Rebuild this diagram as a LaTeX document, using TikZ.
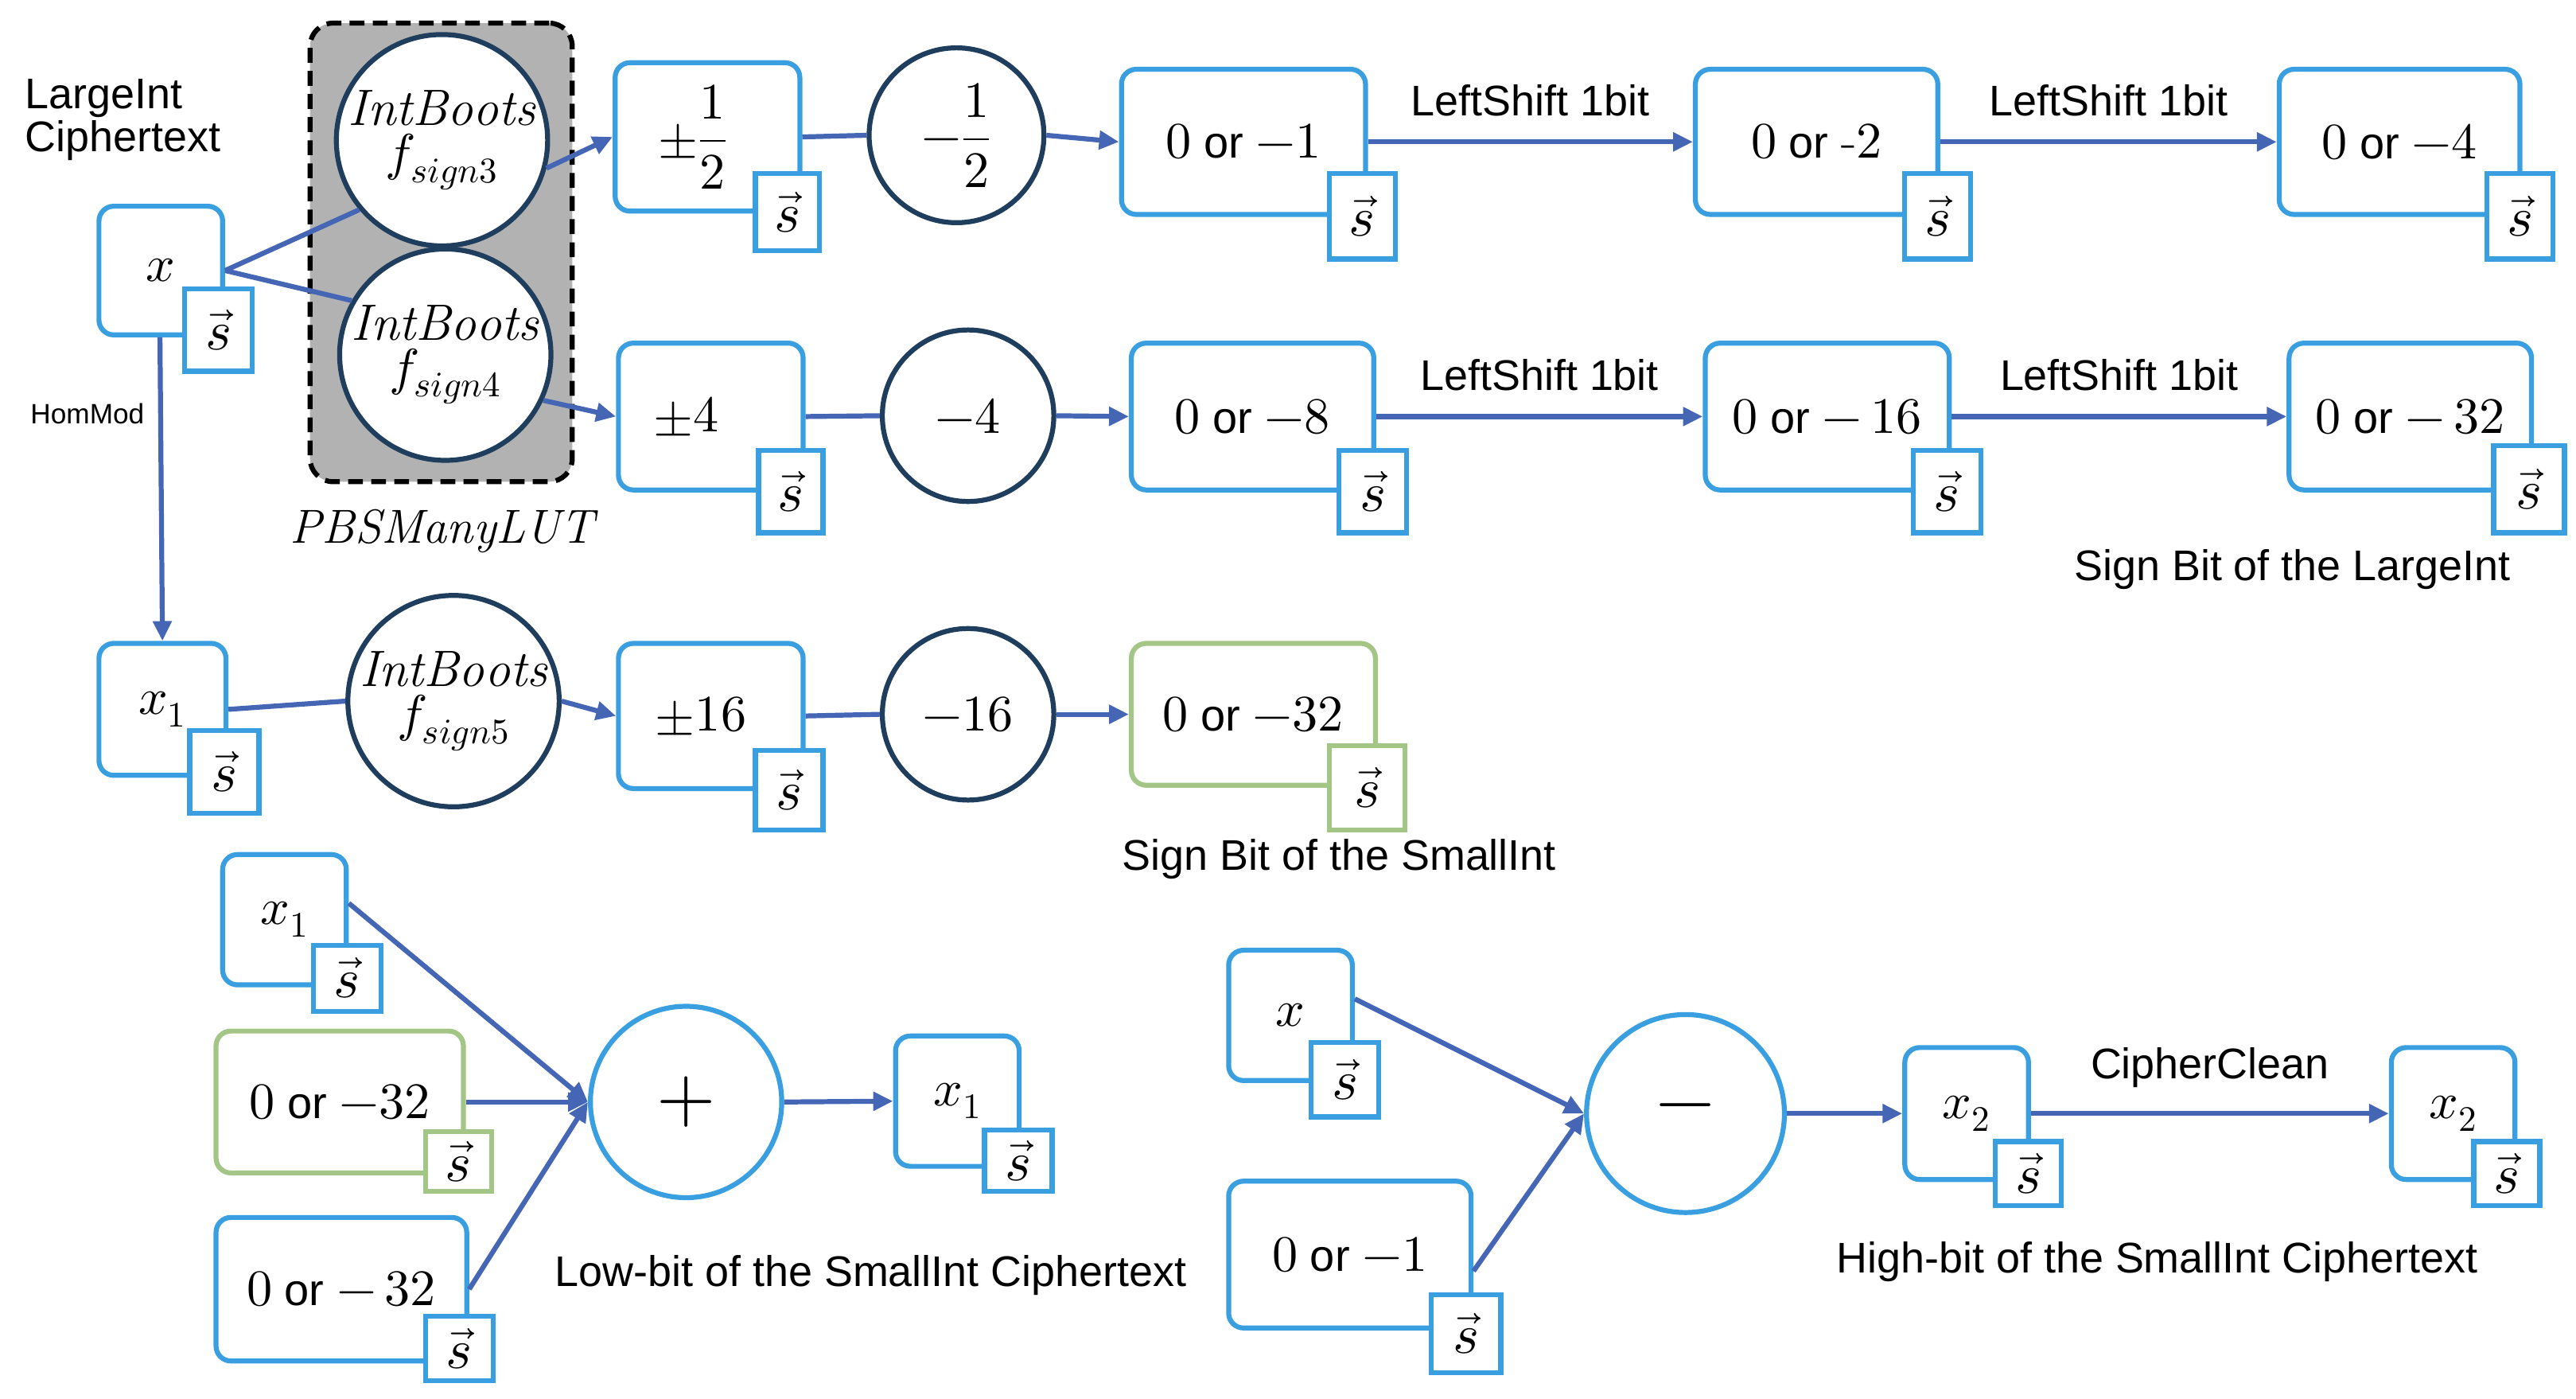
\documentclass[tikz,border=0pt]{standalone}
\usepackage{fontspec}
\usepackage{unicode-math}
\setmathfont{Latin Modern Math}
\newfontfamily\lsans{Liberation Sans}
\usetikzlibrary{arrows.meta}
\definecolor{bb}{HTML}{3A9FE0}
\definecolor{nv}{HTML}{1F3D5C}
\definecolor{ar}{HTML}{4565B5}
\definecolor{gr}{HTML}{A3C585}
\newcommand\Bx[7]{\node[rbox,draw=#7,minimum width={(#4-#2)*1pt},minimum height={(#5-#3)*1pt}] (#1) at ({(#2+#4)/2},{(#3+#5)/2}) {#6};}
\newcommand\Sx[6]{\node[sbox,draw=#6,minimum width={(#4-#2)*1pt},minimum height={(#5-#3)*1pt}] (#1) at ({(#2+#4)/2},{(#3+#5)/2}) {$\vec{s}$};}
\newcommand\por{{\lsans\fontsize{27}{30}\selectfont\ or\ }}
\begin{document}
\begin{tikzpicture}[x=1pt,y=-1pt,
 rbox/.style={rounded corners=9pt,line width=3pt,fill=white,inner sep=0pt,font=\fontsize{31}{34}\selectfont},
 sbox/.style={line width=3pt,fill=white,inner sep=0pt,font=\fontsize{34}{34}\selectfont},
 nc/.style={circle,draw=nv,line width=3pt,fill=white,inner sep=0pt,align=center,font=\fontsize{31}{31}\selectfont},
 bc/.style={circle,draw=bb,line width=3pt,fill=white,inner sep=0pt,font=\fontsize{46}{46}\selectfont},
 ln/.style={draw=ar,line width=3pt},
 arr/.style={ln,-{Triangle[length=12pt,width=11pt]}},
 lab/.style={font=\lsans\fontsize{26}{26}\selectfont,inner sep=0pt}]
\useasboundingbox (0,0) rectangle (1562,848);
\node[lab,align=left,anchor=north west] (lic) at (15,48) {LargeInt\\Ciphertext};
\node[rounded corners=14pt,draw=black,dash pattern=on 9pt off 5pt,line width=3pt,fill=black!30,minimum width=159pt,minimum height=278pt] (pbs) at (267.5,153) {};
\node[font=\fontsize{29}{30}\selectfont] (pbsl) at (268,322) {$\mathit{PBSManyLUT}$};
% x
\Bx{x}{60}{125}{135}{203}{$x$}{bb}\Sx{xs}{112}{175}{153}{225}{bb}
\node[lab,font=\lsans\fontsize{17}{18}\selectfont] (hm) at (53,251) {HomMod};
\node[nc,minimum size=124pt] (c3) at (268,85) {$\mathit{IntBoots}$\\[-4pt]$f_{sign3}$};
\node[nc,minimum size=124pt] (c4) at (270,215) {$\mathit{IntBoots}$\\[-4pt]$f_{sign4}$};
% row1
\Bx{a1}{373}{38}{485}{128}{\hspace*{-18pt}$\pm\dfrac{1}{2}$}{bb}\Sx{a1s}{458}{105}{497}{152}{bb}
\node[nc,minimum size=106pt] (m1) at (580,82) {$-\dfrac{1}{2}$};
\Bx{b1}{680}{42}{828}{130}{$0$\por$-1$}{bb}\Sx{b1s}{806}{105}{846}{157}{bb}
\Bx{c1}{1028}{42}{1175}{130}{$0$\por-$2$}{bb}\Sx{c1s}{1155}{105}{1195}{157}{bb}
\Bx{d1}{1382}{42}{1528}{130}{$0$\por$-4$}{bb}\Sx{d1s}{1508}{105}{1548}{157}{bb}
% row2
\Bx{a2}{375}{208}{487}{297}{\hspace*{-30pt}$\pm4$}{bb}\Sx{a2s}{460}{273}{499}{323}{bb}
\node[nc,minimum size=104pt] (m2) at (587,252) {$-4$};
\Bx{b2}{686}{208}{833}{297}{$0$\por$-8$}{bb}\Sx{b2s}{812}{273}{853}{323}{bb}
\Bx{c2}{1034}{208}{1182}{297}{$0$\por$-\,16$}{bb}\Sx{c2s}{1160}{273}{1201}{323}{bb}
\Bx{d2}{1388}{208}{1535}{297}{$0$\por$-\,32$}{bb}\Sx{d2s}{1512}{270}{1555}{323}{bb}
\node[lab] (sbl) at (1390,345) {Sign Bit of the LargeInt};
% row3
\Bx{x1}{60}{390}{137}{470}{$x_1$}{bb}\Sx{x1s}{115}{443}{157}{493}{bb}
\node[nc,minimum size=126pt] (c5) at (275,425) {$\mathit{IntBoots}$\\[-4pt]$f_{sign5}$};
\Bx{a3}{375}{390}{487}{478}{\hspace*{-12pt}$\pm16$}{bb}\Sx{a3s}{458}{455}{499}{503}{bb}
\node[nc,minimum size=104pt] (m3) at (587,433) {$-16$};
\Bx{b3}{686}{390}{834}{476}{$0$\por$-32$}{gr}\Sx{b3s}{806}{452}{852}{503}{gr}
\node[lab] (sbs) at (812,521) {Sign Bit of the SmallInt};
% bottom left
\Bx{p1}{135}{518}{210}{597}{$x_1$}{bb}\Sx{p1s}{190}{573}{231}{613}{bb}
\Bx{p2}{131}{625}{281}{711}{$0$\por$-32$}{gr}\Sx{p2s}{258}{686}{298}{722}{gr}
\Bx{p3}{131}{738}{283}{825}{$0$\por$-\,32$}{bb}\Sx{p3s}{258}{798}{299}{837}{bb}
\node[bc,minimum size=116pt] (plus) at (416,668) {$+$};
\Bx{p4}{543}{628}{618}{707}{$x_1$}{bb}\Sx{p4s}{597}{685}{638}{722}{bb}
\node[lab] (lb) at (528,773) {Low-bit of the SmallInt Ciphertext};
% bottom right
\Bx{q1}{745}{576}{820}{655}{$x$}{bb}\Sx{q1s}{795}{632}{836}{677}{bb}
\Bx{q2}{745}{716}{892}{805}{$0$\por$-1$}{bb}\Sx{q2s}{868}{785}{910}{832}{bb}
\node[bc,minimum size=120pt] (minus) at (1022,675) {$-$};
\Bx{q3}{1155}{635}{1230}{715}{$x_2$}{bb}\Sx{q3s}{1210}{692}{1250}{731}{bb}
\Bx{q4}{1450}{635}{1525}{715}{$x_2$}{bb}\Sx{q4s}{1500}{692}{1540}{731}{bb}
\node[lab] (hb) at (1308,765) {High-bit of the SmallInt Ciphertext};
% connectors
\draw[ln] (x.east) -- (c3.220);
\draw[ln] (x.east) -- (c4.150);
\draw[arr] (c3.-15) -- (a1.west);
\draw[arr] (c4.-25) -- (a2.west);
\draw[ln] (a1.east) -- (m1.west);
\draw[arr] (m1.east) -- (b1.west);
\draw[arr] (b1.east) -- node[lab,above=14pt]{LeftShift 1bit} (c1.west);
\draw[arr] (c1.east) -- node[lab,above=14pt]{LeftShift 1bit} (d1.west);
\draw[ln] (a2.east) -- (m2.west);
\draw[arr] (m2.east) -- (b2.west);
\draw[arr] (b2.east) -- node[lab,above=14pt]{LeftShift 1bit} (c2.west);
\draw[arr] (c2.east) -- node[lab,above=14pt]{LeftShift 1bit} (d2.west);
\draw[arr] ([xshift=-0.5pt]x.south) -- (x1.north);
\draw[ln] (x1.east) -- (c5.west);
\draw[arr] (c5.east) -- (a3.west);
\draw[ln] (a3.east) -- (m3.west);
\draw[arr] (m3.east) -- (b3.west);
\draw[arr] ([yshift=10pt]p1.east) -- (plus.west);
\draw[arr] (p2.east) -- (plus.west);
\draw[arr] (p3.east) -- (plus.west);
\draw[arr] (plus.east) -- (p4.west);
\draw[arr] ([yshift=10pt]q1.east) -- (minus.west);
\draw[arr] ([yshift=-10pt]q2.east) -- (minus.west);
\draw[arr] (minus.east) -- (q3.west);
\draw[arr] (q3.east) -- node[lab,above=14pt]{CipherClean} (q4.west);
\end{tikzpicture}
\end{document}
